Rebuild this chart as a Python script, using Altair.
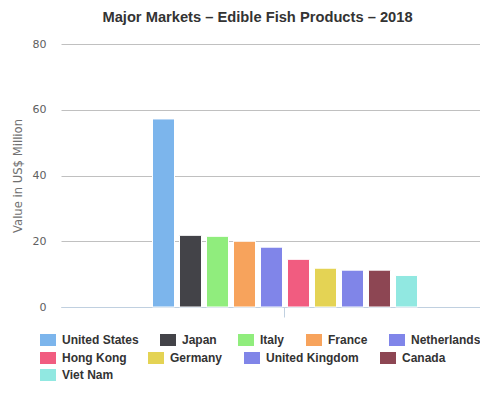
import altair as alt
import pandas as pd

# ---- data ----
countries = ["United States", "Japan", "Italy", "France", "Netherlands",
             "Hong Kong", "Germany", "United Kingdom", "Canada", "Viet Nam"]
values = [57.2, 21.8, 21.5, 20.0, 18.2, 14.5, 11.8, 11.2, 11.2, 9.6]
colors = ["#7cb5ec", "#434348", "#90ed7d", "#f7a35c", "#8085e9",
          "#f15c80", "#e4d354", "#8085e8", "#8d4653", "#91e8e1"]
year = "2018"
y_ticks = [0, 20, 40, 60, 80]
title_text = "Major Markets – Edible Fish Products – 2018"
y_title = "Value in US$ Million"

# legend wraps like the reference: 5 / 4 / 1 items per row
legend_rows = [countries[0:5], countries[5:9], countries[9:]]
legend_y = [288, 306, 323]

df = pd.DataFrame({"country": countries, "value": values, "year": year})

PLOT_W, PLOT_H = 419, 263

x_enc = alt.X("year:N",
              scale=alt.Scale(range=[0, 447], paddingInner=0, paddingOuter=0),
              axis=alt.Axis(labels=False, title=None, grid=False,
                            domainColor="#C0D0E0", domainWidth=1,
                            tickColor="#C0D0E0", tickSize=10, tickWidth=1))
xoff_enc = alt.XOffset("country:N", sort=countries,
                       scale=alt.Scale(domain=countries, range=[91.5, 356.5],
                                       paddingInner=0.185, paddingOuter=0))
y_enc = alt.Y("value:Q",
              scale=alt.Scale(domain=[0, 80], nice=False),
              axis=alt.Axis(values=y_ticks, title=y_title, grid=True,
                            gridColor="#C0C0C0", gridWidth=1,
                            domain=False, ticks=False, tickSize=0,
                            labelPadding=15, labelFont="DejaVu Sans",
                            labelFontSize=11, labelColor="#606060",
                            titleFont="DejaVu Sans", titleFontSize=11.6,
                            titleFontWeight="normal", titleColor="#707070",
                            titleX=-43, titleY=131.5, titleAngle=270,
                            titleAlign="center", titleBaseline="middle"))

layers = []
for row, ly in zip(legend_rows, legend_y):
    row_colors = [colors[countries.index(c)] for c in row]
    layer = (
        alt.Chart(df)
        .transform_filter(alt.FieldOneOfPredicate(field="country", oneOf=row))
        .mark_bar(stroke="white", strokeWidth=1)
        .encode(
            x=x_enc,
            xOffset=xoff_enc,
            y=y_enc,
            color=alt.Color("country:N", sort=row,
                            scale=alt.Scale(domain=row, range=row_colors),
                            legend=alt.Legend(
                                orient="none", legendX=-21, legendY=ly,
                                direction="horizontal", title=None,
                                symbolType="M-1,-0.75H1V0.75H-1Z",
                                symbolSize=256, symbolStrokeWidth=0,
                                symbolOpacity=1,
                                labelFont="Liberation Sans",
                                labelFontWeight="bold", labelFontSize=12,
                                labelColor="#333333", labelOffset=6,
                                columnPadding=21, padding=0)),
        )
    )
    layers.append(layer)

chart = (
    alt.layer(*layers)
    .resolve_scale(color="independent")
    .properties(
        width=PLOT_W, height=PLOT_H,
        autosize=alt.AutoSizeParams(type="none"),
        padding={"left": 53, "top": 36, "right": 0, "bottom": 74},
        title=alt.TitleParams(title_text, font="Liberation Sans",
                              fontSize=14.7, fontWeight="bold",
                              color="#333333", anchor="middle",
                              frame="group", dx=-13, offset=13),
    )
    .configure(background="white")
    .configure_view(strokeWidth=0, stroke="transparent")
    .configure_axisX(grid=False)
)

chart.save("out.html", embed_options={"renderer": "svg", "actions": False})
